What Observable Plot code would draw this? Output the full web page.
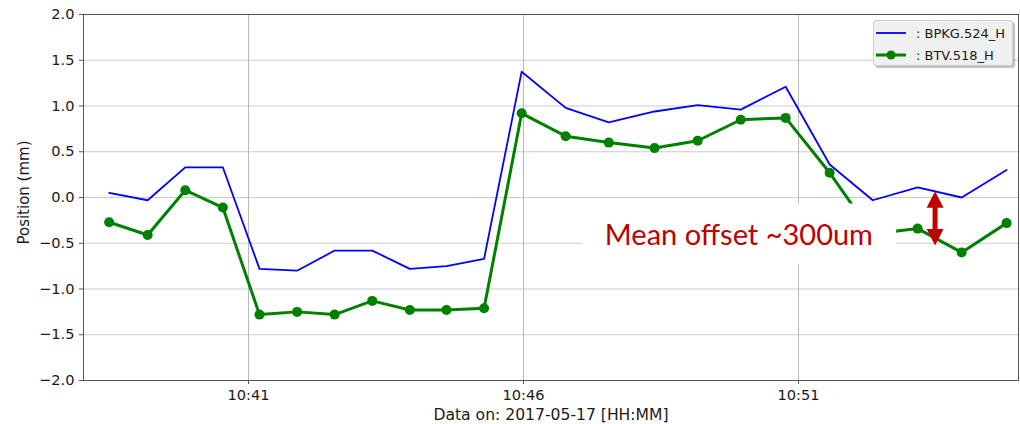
<!DOCTYPE html>
<html>
<head>
<meta charset="utf-8">
<script src="https://cdn.jsdelivr.net/npm/d3@7"></script>
<script src="https://cdn.jsdelivr.net/npm/@observablehq/plot@0.6"></script>
<style>
  html, body { margin: 0; padding: 0; background: #fff; }
  #chart { position: relative; width: 1020px; height: 424px; }
  #legend {
    position: absolute; left: 873px; top: 20px; width: 140px; height: 46px;
    background: #f0f0f0; border: 1px solid #cfcfcf; border-radius: 3px;
    box-shadow: 2px 2px 1px rgba(0,0,0,0.25);
    font: 13px "DejaVu Sans", sans-serif; color: #1a1a1a; box-sizing: border-box;
  }
  #legend .row { position: absolute; left: 2px; height: 20px; display: flex; align-items: center; }
  #legend svg { display: block; }
  #legend span { margin-left: 10px; white-space: nowrap; }
</style>
</head>
<body>
<div id="chart"></div>
<script>
// Sample times (2017-05-17) and horizontal positions in mm for the two monitors
const day = "2017-05-17";
const times = [
  "10:38:28", "10:39:10", "10:39:51", "10:40:32", "10:41:12", "10:41:53",
  "10:42:34", "10:43:15", "10:43:56", "10:44:36", "10:45:17", "10:45:58",
  "10:46:46", "10:47:33", "10:48:23", "10:49:10", "10:49:57", "10:50:46",
  "10:51:34", "10:52:21", "10:53:10", "10:53:58", "10:54:47"
];
const bpkg524H = [
  0.05, -0.03, 0.33, 0.33, -0.78, -0.80, -0.58, -0.58, -0.78, -0.75, -0.67, 1.375,
  0.98, 0.82, 0.94, 1.01, 0.96, 1.21, 0.36, -0.03, 0.11, 0.00, 0.30
];
const btv518H = [
  -0.27, -0.41, 0.08, -0.11, -1.28, -1.25, -1.28, -1.13, -1.23, -1.23, -1.21, 0.92,
  0.67, 0.60, 0.54, 0.62, 0.85, 0.87, 0.27, -0.40, -0.34, -0.60, -0.28
];
const seriesNames = [": BPKG.524_H", ": BTV.518_H"];
const xTickTimes = ["10:41", "10:46", "10:51"];
const yTicks = [-2, -1.5, -1, -0.5, 0, 0.5, 1, 1.5, 2];
const xRange = ["10:38:00", "10:55:00"];
const xTitle = ["Data on: 2017-05-17 [HH:MM]"];
const yTitle = ["Position (mm)"];

// Annotation: offset label box and double arrow between the two traces
const noteText = ["Mean offset ~300um"];
const noteBox = [{x1: "10:47:05", x2: "10:52:47", y1: -0.071, y2: -0.729}];
const noteAt = [{t: "10:49:55", v: -0.416}];
const arrowShaft = [{t: "10:53:29", v1: 0.071, v2: -0.539}];
const arrowHeads = [{t: "10:53:29", v: -0.112, rot: 0}, {t: "10:53:29", v: -0.345, rot: 180}];

const parse = d3.timeParse("%Y-%m-%d %H:%M:%S");
const at = (s) => parse(`${day} ${s.length === 5 ? s + ":00" : s}`);

const rows = times.map((t, i) => ({time: at(t), bpkg: bpkg524H[i], btv: btv518H[i]}));

// Filled arrow head: base centred on the origin, tip pointing up
const headSymbol = {
  draw(context) {
    context.moveTo(0, -16.5);
    context.lineTo(8.5, 0);
    context.lineTo(-8.5, 0);
    context.closePath();
  }
};

const red = "#c00000";

const chart = Plot.plot({
  width: 1020,
  height: 424,
  marginLeft: 83,
  marginRight: 2,
  marginTop: 14,
  marginBottom: 44,
  style: {fontFamily: "DejaVu Sans, sans-serif", fontSize: "14.6px", color: "#1a1a1a", background: "#fff"},
  x: {type: "time", domain: xRange.map(at)},
  y: {domain: [-2, 2]},
  marks: [
    Plot.gridY(yTicks, {stroke: "#cccccc", strokeOpacity: 1, strokeWidth: 1.2}),
    Plot.gridX(xTickTimes.map(at), {stroke: "#b8b8b8", strokeOpacity: 1}),
    Plot.axisY(yTicks, {tickSize: 4, tickPadding: 5, stroke: "#555", tickFormat: d3.format(".1f"), label: null}),
    Plot.axisX(xTickTimes.map(at), {tickSize: 4, tickPadding: 5, stroke: "#555", tickFormat: d3.timeFormat("%H:%M"), label: null}),
    Plot.text(xTitle, {
      frameAnchor: "bottom", dy: 34, lineAnchor: "middle", textAnchor: "middle",
      text: (d) => d, fontSize: 15.6, fill: "#1a1a1a"
    }),
    Plot.text(yTitle, {
      frameAnchor: "left", dx: -59, dy: -5, rotate: -90, lineAnchor: "middle", textAnchor: "middle",
      text: (d) => d, fontSize: 15, fill: "#1a1a1a"
    }),
    Plot.line(rows, {x: "time", y: "bpkg", stroke: "#0000ff", strokeWidth: 1.8}),
    Plot.line(rows, {x: "time", y: "btv", stroke: "#008000", strokeWidth: 3}),
    Plot.dot(rows, {x: "time", y: "btv", r: 5, fill: "#008000", stroke: "none"}),
    Plot.rectX(noteBox, {x1: (d) => at(d.x1), x2: (d) => at(d.x2), y1: "y1", y2: "y2", fill: "#fff"}),
    Plot.text(noteAt, {
      x: (d) => at(d.t), y: "v", text: () => noteText[0], fill: red,
      fontSize: 29, fontFamily: "Lato, sans-serif", textAnchor: "middle"
    }),
    Plot.ruleX(arrowShaft, {x: (d) => at(d.t), y1: "v1", y2: "v2", stroke: red, strokeWidth: 5, insetTop: 8, insetBottom: 8}),
    Plot.dot(arrowHeads, {x: (d) => at(d.t), y: "v", symbol: headSymbol, rotate: "rot", fill: red, stroke: "none"}),
    Plot.frame({stroke: "#555", strokeWidth: 1})
  ]
});

const root = document.getElementById("chart");
root.appendChild(chart);

// Legend drawn over the top-right corner of the plot area
const legend = document.createElement("div");
legend.id = "legend";
const swatch = (color, width, dot) =>
  `<svg width="30" height="10"><line x1="0" x2="30" y1="5" y2="5" stroke="${color}" stroke-width="${width}"/>` +
  (dot ? `<circle cx="15" cy="5" r="4.5" fill="${color}"/>` : "") + `</svg>`;
legend.innerHTML =
  `<div class="row" style="top:2px">${swatch("#0000ff", 1.8, false)}<span>${seriesNames[0]}</span></div>` +
  `<div class="row" style="top:24px">${swatch("#008000", 3, true)}<span>${seriesNames[1]}</span></div>`;
root.appendChild(legend);
</script>
</body>
</html>
